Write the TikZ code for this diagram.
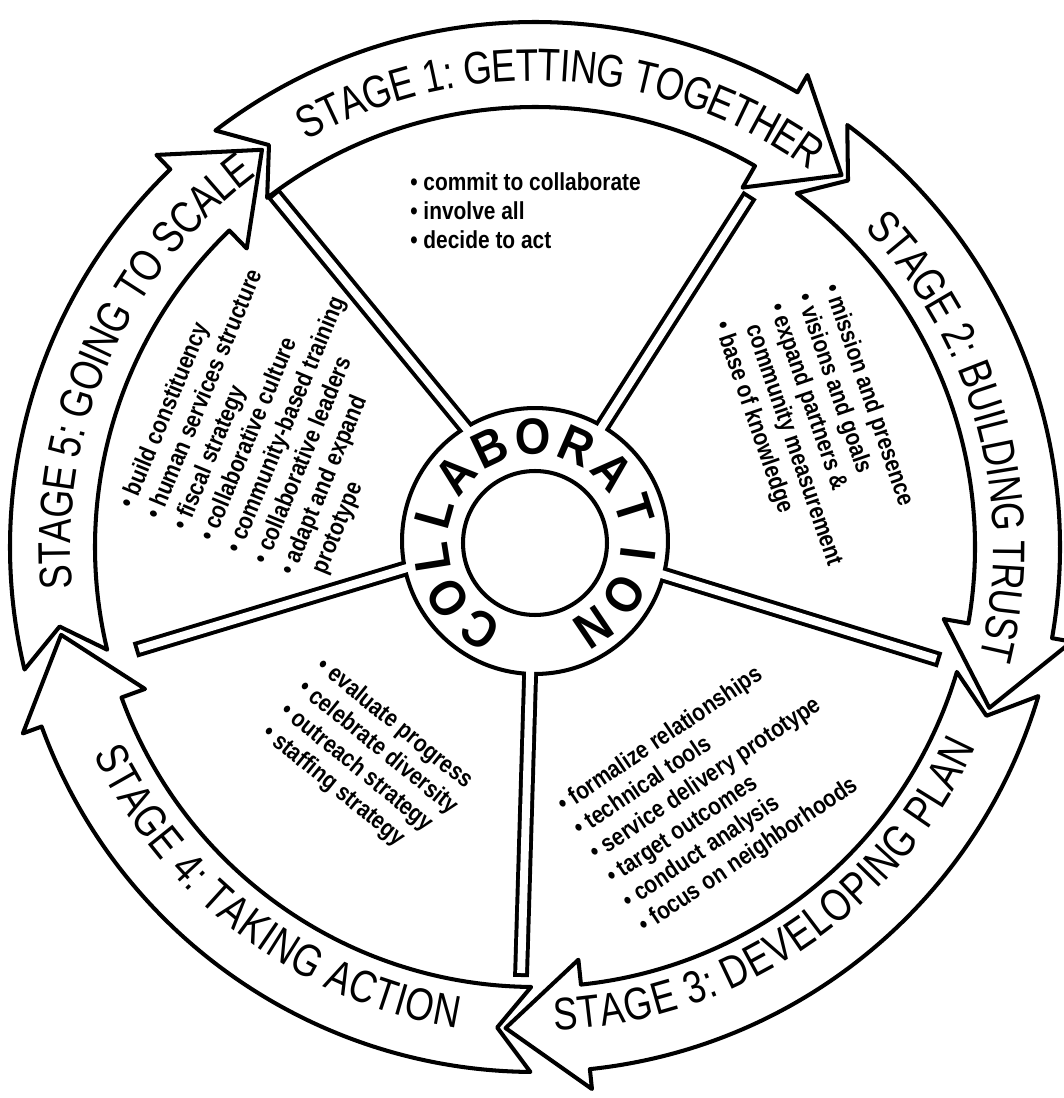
\documentclass[tikz,border=0pt]{standalone}
\usepackage{fontspec}
\setmainfont{Liberation Sans}
\newfontfamily\listfont[FakeStretch=0.85]{Liberation Sans}
\newfontfamily\handfont[FakeStretch=0.8]{Liberation Sans}
\newfontfamily\hubfont[FakeStretch=0.9]{Liberation Sans}
\usetikzlibrary{decorations.text,calc}
\newcommand\stagefnt{\handfont\fontsize{26pt}{26pt}\selectfont}
\begin{document}
\begin{tikzpicture}[x=0.02cm,y=0.02cm,
  band/.style={draw=black, fill=white, line width=2.3pt, line join=round},
  spokeout/.style={line width=9pt, black},
  spokein/.style={line width=4.5pt, white},
  listnode/.style={font=\listfont\bfseries\fontsize{14pt}{16.5pt}\selectfont, align=left, inner sep=0pt, anchor=north west},
  hubletter/.style={font=\hubfont\bfseries\fontsize{29pt}{29pt}\selectfont, inner sep=0pt},
  ringcircle/.style={circle, draw=black, line width=2.3pt, inner sep=0pt},
  stagetext/.style={decorate, decoration={text along path, text={|\stagefnt|#1}, text align={center}, raise=-9pt}}
]
\def\rOut{525}\def\rIn{440}\def\rMid{482}\def\rOf{545}\def\rIf{415}
\fill[white] (-535,-551) rectangle (529,547);
\useasboundingbox (-535,-551) rectangle (529,547);

% the five curved stage arrows (tail angle / head angle, clockwise)
\foreach \a/\b in {124/50,50/-20,-20/-94,-94/-170,190/124}{
  \draw[band] ({\a+3.5}:\rOut) arc[start angle={\a+3.5}, end angle={\b+10}, radius=\rOut]
    -- ({\b+10}:\rOf) -- ({\b+0.5}:\rMid) -- ({\b+10}:\rIf) -- ({\b+10}:\rIn)
    arc[start angle={\b+10}, end angle={\a+3.5}, radius=\rIn]
    -- ({\a-0.5}:\rMid) -- cycle;
}

% hub position and spoke end points
\coordinate (hubc) at (0,6);
\foreach \n/\ang in {1/121.5,2/59.6,3/-14.7,4/-92.1,5/-168}{
  \coordinate (s\n) at ($(hubc)+(\ang:133)$);
}
\coordinate (e1) at (-262,354);
\coordinate (e2) at (215,352);
\coordinate (e3) at (405,-113);
\coordinate (e4) at (-14,-430);
\coordinate (e5) at (-400,-103);

% spokes
\foreach \n in {1,...,5}{
  \draw[spokeout] ($(s\n)!-0.36cm!(e\n)$) -- (e\n);
}
\node[ringcircle, fill=white, minimum size=5.32cm] (hub) at (hubc) {};
\foreach \n in {1,...,5}{
  \draw[spokein] ($(s\n)!-0.22cm!(e\n)$) -- ($(e\n)!0.08cm!(s\n)$);
}
\node[ringcircle, minimum size=2.88cm] (core) at (0,4) {};

% COLLABORATION round the hub
\foreach \ch [count=\i from 0] in {C,O,L,L,A,B,O,R,A,T,I,O,N}{
  \node[hubletter, rotate={148-24.5*\i}] (h\i) at ($(hub.center)+({238-24.5*\i}:104)$) {\ch};
}

% stage labels
\path[stagetext={STAGE 1: GETTING TOGETHER}] (131.6:482) arc[start angle=131.6, end angle=41.6, radius=482];
\path[stagetext={STAGE 2: BUILDING TRUST}] (60:474) arc[start angle=60, end angle=-30, radius=474];
\path[stagetext={STAGE 3: DEVELOPING PLAN}] (-101:468) arc[start angle=-101, end angle=-11, radius=468];
\path[stagetext={STAGE 4: TAKING ACTION}] (-172:472) arc[start angle=-172, end angle=-82, radius=472];
\path[stagetext={STAGE 5: GOING TO SCALE}] (201:480) arc[start angle=201, end angle=111, radius=480];

% bullet lists
\node[listnode] (list1) at (-125,375) {•\ commit to collaborate\\ •\ involve all\\ •\ decide to act};
\node[listnode, rotate=-71] (list2) at (306,266) {•\ mission and presence\\ •\ visions and goals\\ •\ expand partners \&\\ \hphantom{•\ }community measurement\\ •\ base of knowledge};
\node[listnode, rotate=34] (list3) at (19,-251) {•\ formalize relationships\\ •\ technical tools\\ •\ service delivery prototype\\ •\ target outcomes\\ •\ conduct analysis\\ •\ focus on neighborhoods};
\node[listnode, rotate=-39] (list4) at (-208,-107) {•\ evaluate progress\\ •\ celebrate diversity\\ •\ outreach strategy\\ •\ staffing strategy};
\node[listnode, rotate=67.5] (list5) at (-419,44) {•\ build constituency\\ •\ human services structure\\ •\ fiscal strategy\\ •\ collaborative culture\\ •\ community-based training\\ •\ collaborative leaders\\ •\ adapt and expand\\ \hphantom{•\ }prototype};
\end{tikzpicture}
\end{document}
